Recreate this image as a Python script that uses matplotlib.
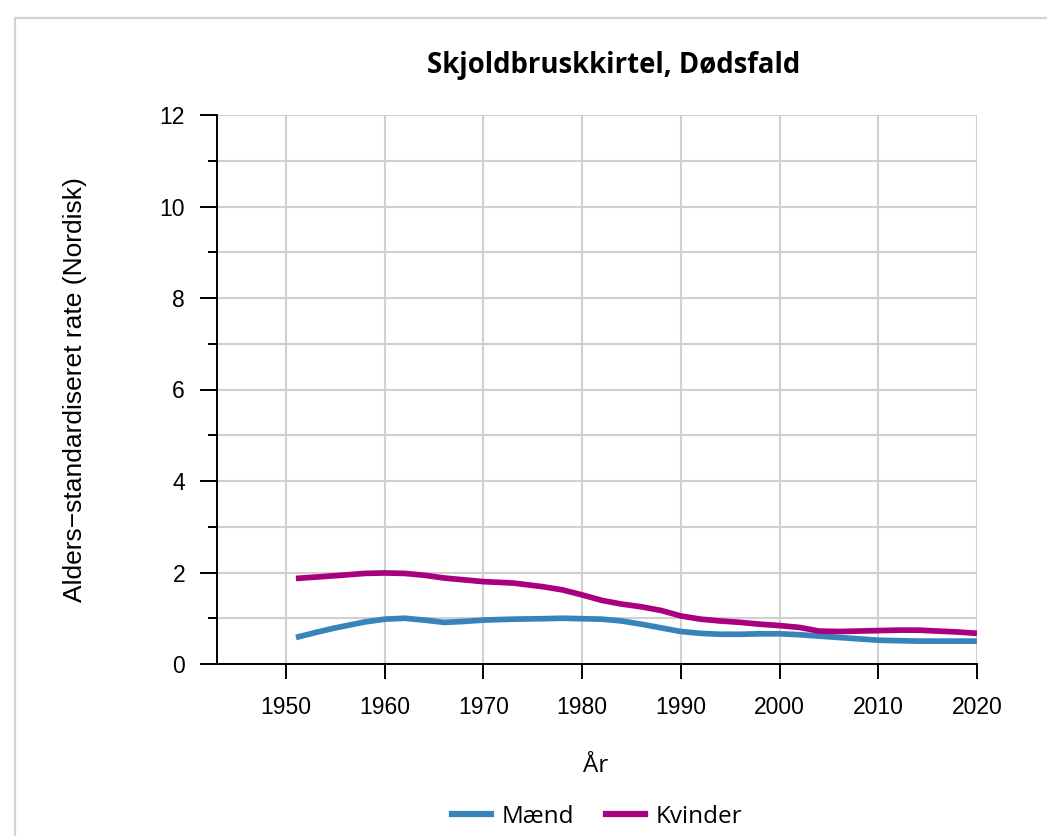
import matplotlib
matplotlib.use("Agg")
import matplotlib.pyplot as plt
from matplotlib.patches import Rectangle
from matplotlib.lines import Line2D

years = [1951, 1953, 1955, 1958, 1960, 1962, 1964, 1966, 1968, 1970, 1973, 1976,
         1978, 1980, 1982, 1984, 1986, 1988, 1990, 1992, 1994, 1996, 1998, 2000,
         2002, 2004, 2006, 2008, 2010, 2012, 2014, 2016, 2018, 2020]
maend = [0.58, 0.69, 0.79, 0.92, 0.98, 1.00, 0.96, 0.91, 0.93, 0.96, 0.98, 0.99,
         1.00, 0.99, 0.98, 0.94, 0.87, 0.79, 0.71, 0.67, 0.65, 0.65, 0.66, 0.66,
         0.64, 0.61, 0.58, 0.55, 0.52, 0.51, 0.50, 0.50, 0.50, 0.50]
kvinder = [1.87, 1.90, 1.93, 1.98, 1.99, 1.98, 1.94, 1.88, 1.84, 1.80, 1.77, 1.69,
           1.62, 1.51, 1.39, 1.31, 1.25, 1.17, 1.05, 0.98, 0.94, 0.91, 0.87, 0.84,
           0.80, 0.72, 0.71, 0.72, 0.73, 0.74, 0.74, 0.72, 0.70, 0.67]
xticks = list(range(1950, 2021, 10))
yticks = list(range(0, 13, 2))

blue = "#3784bb"
magenta = "#a8007e"
text_font = "Open Sans"
plt.rcParams["font.family"] = ["Liberation Sans", "DejaVu Sans"]

fig = plt.figure(figsize=(10.47, 8.36), dpi=100)
# light frame round the chart (left and top edges visible)
fig.patches.append(Rectangle((15 / 1047, -0.2), 1.2, 1.2 - 18 / 836, transform=fig.transFigure,
                             fill=False, edgecolor="#d3d3d3", linewidth=1.6))

ax = fig.add_axes([217 / 1047, 1 - 664 / 836, (977 - 217) / 1047, (664 - 115) / 836])
ax.plot(years, maend, color=blue, linewidth=4.1, solid_capstyle="butt", zorder=3)
ax.plot(years, kvinder, color=magenta, linewidth=4.1, solid_capstyle="butt", zorder=3)

ax.set_xlim(1943, 2020)
ax.set_ylim(0, 12)
ax.set_xticks(xticks)
ax.set_yticks(yticks)
ax.set_yticks(range(1, 12, 2), minor=True)

for s in ["top", "right"]:
    ax.spines[s].set_visible(False)
for s in ["left", "bottom"]:
    ax.spines[s].set_linewidth(1.4)

ax.grid(True, which="both", color="#d0d0d0", linewidth=1.5, zorder=0)
ax.grid(False, axis="x", which="minor")
ax.set_axisbelow(True)

ax.tick_params(axis="y", which="major", length=12, width=1.4, pad=11, labelsize=16.5)
ax.tick_params(axis="y", which="minor", length=6.5, width=1.4)
ax.tick_params(axis="x", length=11, width=1.4, pad=12, labelsize=16.5)

ax.set_ylabel("Alders\u2212standardiseret rate (Nordisk)", fontsize=19)
ax.yaxis.set_label_coords(75 / 1047, 0.5 * (1 - 664 / 836 + 1 - 115 / 836), transform=fig.transFigure)
ax.yaxis.label.set_va("center")

fig.text(614 / 1047, 1 - 66 / 836, "Skjoldbruskkirtel, Dødsfald", fontfamily=text_font,
         fontweight="bold", fontsize=19.8, ha="center", va="center")
fig.text(596 / 1047, 1 - 766 / 836, "År", fontfamily=text_font, fontsize=17.5,
         ha="center", va="center")

handles = [Line2D([], [], color=blue, linewidth=4.5),
           Line2D([], [], color=magenta, linewidth=4.5)]
fig.legend(handles, ["Mænd", "Kvinder"], loc="center", bbox_to_anchor=(597 / 1047, 1 - 817 / 836),
           ncol=2, frameon=False, prop={"family": text_font, "size": 17.5},
           handlelength=1.6, handletextpad=0.45, columnspacing=1.3)

fig.savefig("out.png", dpi=100)
